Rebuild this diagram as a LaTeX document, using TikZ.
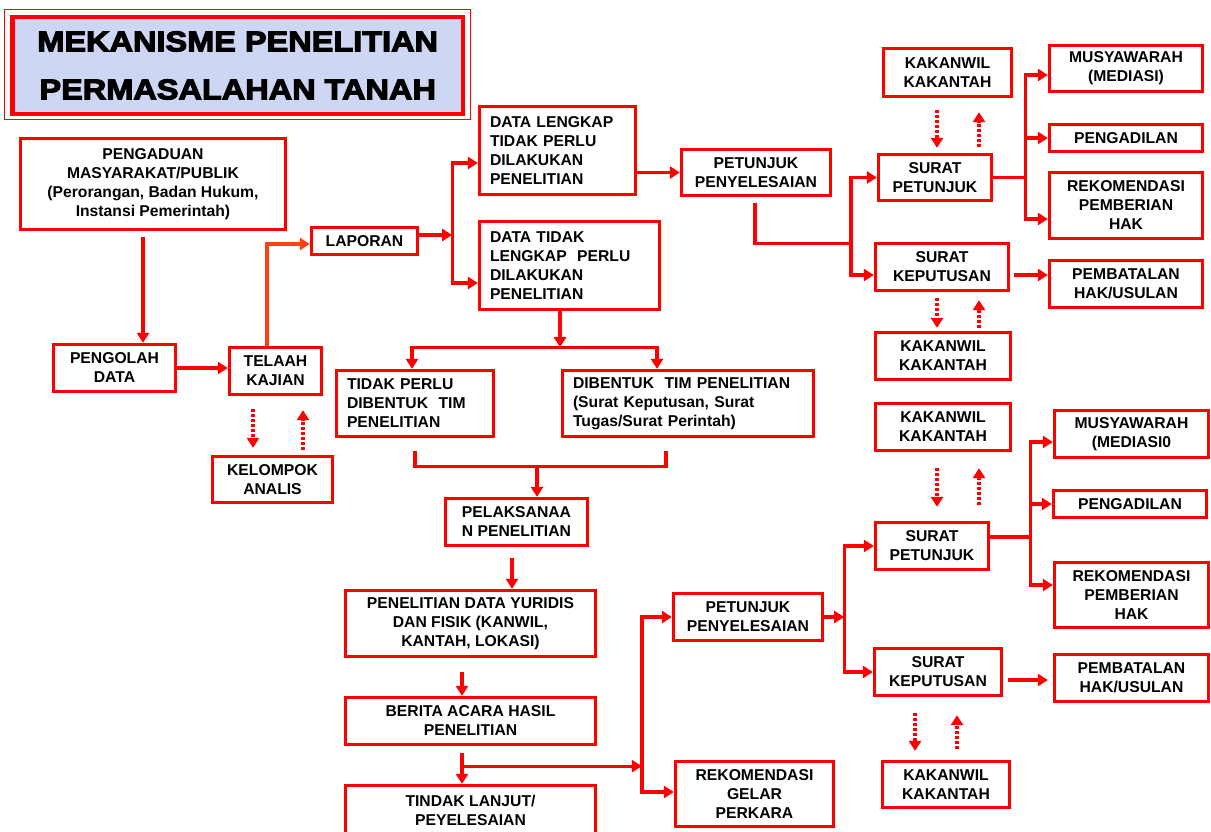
\documentclass[tikz,border=0pt]{standalone}
\usepackage{fontspec}
\setmainfont{Liberation Sans}
\newfontfamily\titlefont[FakeStretch=1.14,FakeBold=4]{Liberation Sans Bold}
\usetikzlibrary{arrows.meta,calc}
\definecolor{bred}{RGB}{255,0,0}
\definecolor{ored}{RGB}{255,64,16}
\definecolor{tfill}{RGB}{205,214,242}
\newcommand\mybox[7]{%
  \node[box,#6,minimum width={(#4-#2-3)*1pt},minimum height={(#5-#3-3)*1pt}] (#1) at ({(#2+#4)/2},{(#3+#5)/2}) {#7};}
\tikzset{
  box/.style={draw=bred,line width=3.3pt,fill=white,text=black,inner sep=0pt,align=center,
    font=\fontsize{15.7}{19}\selectfont\bfseries},
  lbox/.style={align=left,text width={(#1-24)*1pt}},
  line/.style={draw=bred,line width=3.3pt},
  arr/.style={line,-{Triangle[length=10pt,width=12pt]}},
  oarr/.style={draw=ored,line width=3.3pt,-{Triangle[length=10pt,width=12pt]}},
  darr/.style={arr,dash pattern=on 2.6pt off 2.4pt},
  title/.style={draw=bred,line width=4.5pt,fill=tfill,inner sep=0pt,align=center,
    font=\titlefont\fontsize{28.5}{48}\selectfont}
}
\begin{document}
\begin{tikzpicture}[x=1pt,y=-1pt]
\useasboundingbox (0,0) rectangle (1211,831);
% title
\node[title,minimum width=450.5pt,minimum height=97pt] (title) at (237.75,65.5) {MEKANISME PENELITIAN\\PERMASALAHAN TANAH};
\draw[bred,line width=1.2pt] ($(title.north west)+(-5.5,-5)$) rectangle ($(title.south east)+(5,3)$);
% boxes
\mybox{peng}{19}{137}{287}{231}{}{PENGADUAN\\MASYARAKAT/PUBLIK\\(Perorangan, Badan Hukum,\\Instansi Pemerintah)}
\mybox{pengolah}{52}{343}{177}{393}{}{PENGOLAH\\DATA}
\mybox{telaah}{228}{346}{323}{396}{}{TELAAH\\KAJIAN}
\mybox{kelompok}{211}{455}{334}{504}{}{KELOMPOK\\ANALIS}
\mybox{laporan}{310}{226}{419}{256}{}{LAPORAN}
\mybox{dl}{478}{105}{637}{196}{lbox=159}{DATA LENGKAP\\TIDAK PERLU\\DILAKUKAN\\PENELITIAN}
\mybox{dtl}{478}{220}{661}{311}{lbox=183}{DATA TIDAK\\LENGKAP~~PERLU\\DILAKUKAN\\PENELITIAN}
\mybox{pet1}{680}{148}{832}{197}{}{PETUNJUK\\PENYELESAIAN}
\mybox{tpd}{335}{369}{495}{438}{lbox=160}{TIDAK PERLU\\DIBENTUK~~TIM\\PENELITIAN}
\mybox{dtp}{561}{369}{815}{438}{lbox=254}{DIBENTUK~~TIM PENELITIAN\\(Surat Keputusan, Surat\\Tugas/Surat Perintah)}
\mybox{pel}{444}{497}{589}{547}{}{PELAKSANAA\\N PENELITIAN}
\mybox{pdy}{344}{589}{597}{658}{}{PENELITIAN DATA YURIDIS\\DAN FISIK (KANWIL,\\KANTAH, LOKASI)}
\mybox{ba}{344}{696}{597}{746}{}{BERITA ACARA HASIL\\PENELITIAN}
\mybox{tl}{344}{784}{597}{836}{}{TINDAK LANJUT/\\PEYELESAIAN}
\mybox{pet2}{672}{592}{824}{642}{}{PETUNJUK\\PENYELESAIAN}
\mybox{rgp}{674}{760}{835}{828}{}{REKOMENDASI\\GELAR\\PERKARA}
\mybox{kk1}{882}{47}{1013}{98}{}{KAKANWIL\\KAKANTAH}
\mybox{spa}{877}{153}{993}{202}{}{SURAT\\PETUNJUK}
\mybox{ska}{874}{242}{1010}{292}{}{SURAT\\KEPUTUSAN}
\mybox{kk2}{874}{331}{1012}{381}{}{KAKANWIL\\KAKANTAH}
\mybox{mus1}{1048}{44}{1204}{93}{}{MUSYAWARAH\\(MEDIASI)}
\mybox{pgd1}{1048}{123}{1204}{153}{}{PENGADILAN}
\mybox{rph1}{1048}{171}{1204}{240}{}{REKOMENDASI\\PEMBERIAN\\HAK}
\mybox{pbt1}{1048}{259}{1204}{309}{}{PEMBATALAN\\HAK/USULAN}
\mybox{kk3}{874}{402}{1012}{452}{}{KAKANWIL\\KAKANTAH}
\mybox{spb}{874}{521}{990}{571}{}{SURAT\\PETUNJUK}
\mybox{skb}{873}{647}{1003}{697}{}{SURAT\\KEPUTUSAN}
\mybox{kk4}{881}{760}{1011}{809}{}{KAKANWIL\\KAKANTAH}
\mybox{mus2}{1053}{409}{1210}{459}{}{MUSYAWARAH\\(MEDIASI0}
\mybox{pgd2}{1052}{489}{1208}{519}{}{PENGADILAN}
\mybox{rph2}{1053}{561}{1210}{629}{}{REKOMENDASI\\PEMBERIAN\\HAK}
\mybox{pbt2}{1053}{653}{1210}{703}{}{PEMBATALAN\\HAK/USULAN}
% connectors left
\draw[arr] ($(peng.south)+(-10,6)$) -- ($(peng.south |- pengolah.north)+(-10,0)$);
\draw[arr] (pengolah.east) -- (pengolah.east -| telaah.west);
\draw[oarr] ($(telaah.north)+(-8.5,0)$) |- ($(laporan.west)+(0,3)$);
\draw[darr] ($(telaah.south)+(-22.5,13)$) -- ($(telaah.south |- kelompok.north)+(-22.5,-7)$);
\draw[darr] ($(telaah.south |- kelompok.north)+(27.5,-5)$) -- ($(telaah.south)+(27.5,14)$);
% laporan split
\coordinate (sA) at ($(laporan.east)+(33,-6)$);
\draw[arr] ($(laporan.east)+(0,-6)$) -- (sA);
\draw[arr] (sA) |- ($(dl.west)+(0,12.5)$);
\draw[arr] (sA) |- ($(dtl.west)+(0,17.5)$);
\draw[arr] (dl.east |- pet1.west) -- (pet1.west);
% upper right bracket
\coordinate (jA) at ($(pet1.south)+(95,46)$);
\draw[line] ($(pet1.south)+(-1,6)$) |- (jA);
\draw[arr] (jA) |- (spa.west);
\draw[arr] (jA) |- ($(ska.west)+(0,8)$);
\draw[darr] ($(spa.north |- kk1.south)+(2,12)$) -- ($(spa.north)+(2,-5)$);
\draw[darr] ($(spa.north)+(44,-6)$) -- ($(spa.north |- kk1.south)+(44,14)$);
\coordinate (jB) at ($(spa.east)+(32,0)$);
\draw[line] (spa.east) -- (jB);
\draw[arr] (jB) |- ($(mus1.west)+(0,6.5)$);
\draw[arr] (jB) |- (pgd1.west);
\draw[arr] (jB) |- ($(rph1.west)+(0,13.5)$);
\draw[arr] ($(ska.east)+(4,8)$) -- ($(ska.east -| pbt1.west)+(0,8)$);
\draw[darr] ($(ska.south)+(-5,6)$) -- ($(ska.south |- kk2.north)+(-5,-3)$);
\draw[darr] ($(ska.south |- kk2.north)+(37,-3)$) -- ($(ska.south)+(37,8)$);
% middle
\coordinate (jC) at ($(dtl.south)+(-9.5,36)$);
\draw[arr] ($(dtl.south)+(-9.5,0)$) -- (jC);
\draw[arr] (jC) -| ($(tpd.north)+(-3,0)$);
\draw[arr] (jC) -| ($(dtp.north)+(-31,0)$);
\draw[line] ($(tpd.south)+(0,13)$) |- ($(dtp.south)+(-22,28)$) -- ($(dtp.south)+(-22,13)$);
\coordinate (jD) at ($(pel.north)+(20.5,-31)$);
\draw[arr] (jD) -- ($(pel.north)+(20.5,0)$);
\draw[arr] ($(pel.south)+(-4.5,11)$) -- ($(pel.south |- pdy.north)+(-4.5,0)$);
\draw[arr] ($(pdy.south)+(-8.5,14)$) -- ($(pdy.south |- ba.north)+(-8.5,0)$);
\draw[arr] ($(ba.south)+(-8.5,7)$) -- ($(ba.south |- tl.north)+(-8.5,0)$);
\coordinate (jE) at ($(ba.south)+(-8.5,20)$);
\coordinate (jF) at ($(pet2.west |- jE)+(-30,0)$);
\draw[arr] (jE) -- (jF);
\draw[arr] (jF) |- (pet2.west);
\draw[arr] (jF) |- ($(rgp.west)+(0,-2)$);
% lower right
\coordinate (jG) at ($(pet2.east)+(20,0)$);
\draw[arr] (pet2.east) -- (jG);
\draw[arr] (jG) |- (spb.west);
\draw[arr] (jG) |- (skb.west);
\draw[darr] ($(spb.north |- kk3.south)+(5,16)$) -- ($(spb.north)+(5,-14)$);
\draw[darr] ($(spb.north)+(47,-16)$) -- ($(spb.north |- kk3.south)+(47,16)$);
\coordinate (jH) at ($(spb.east)+(40,-9)$);
\draw[line] ($(spb.east)+(0,-9)$) -- (jH);
\draw[arr] (jH) |- ($(mus2.west)+(0,8)$);
\draw[arr] (jH) |- (pgd2.west);
\draw[arr] (jH) |- ($(rph2.west)+(0,-10)$);
\draw[arr] ($(skb.east)+(5,8)$) -- ($(skb.east -| pbt2.west)+(-5,8)$);
\draw[darr] ($(skb.south)+(-23,16)$) -- ($(skb.south |- kk4.north)+(-23,-9)$);
\draw[darr] ($(skb.south |- kk4.north)+(19,-11)$) -- ($(skb.south)+(19,18)$);
\end{tikzpicture}
\end{document}
